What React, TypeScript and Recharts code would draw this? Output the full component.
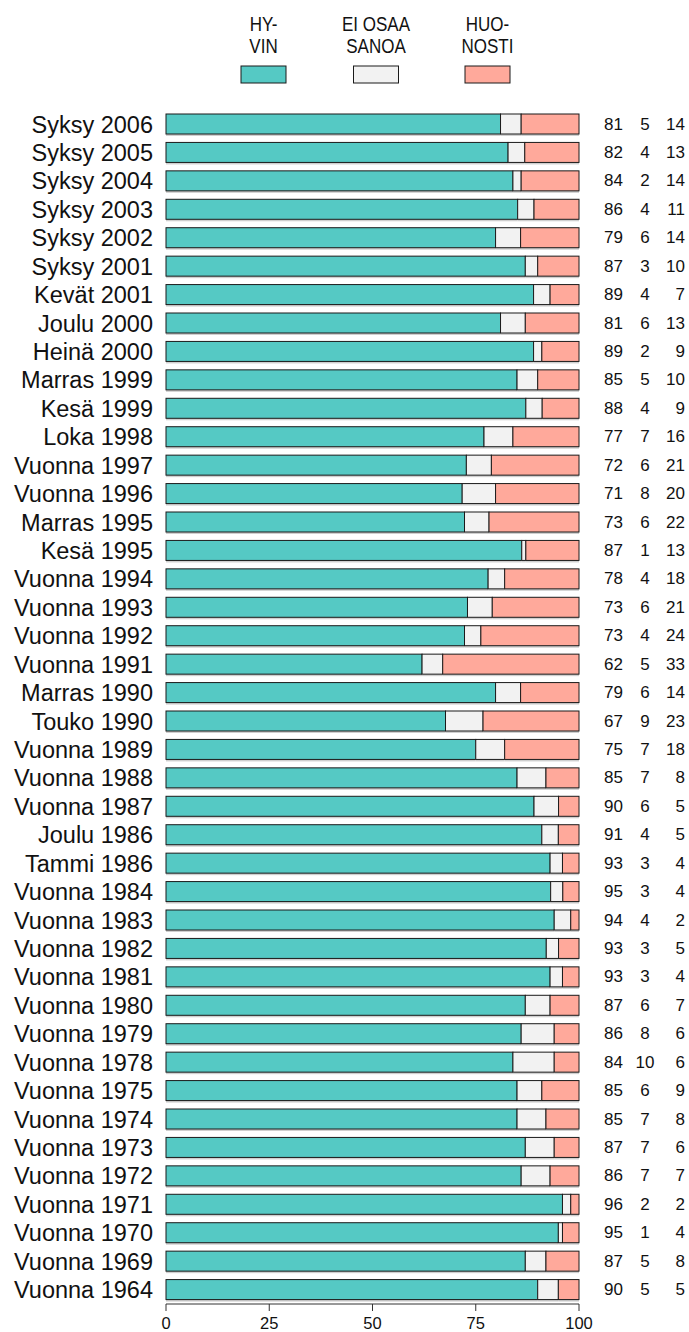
import React from 'react';
import { BarChart, Bar, XAxis, YAxis, LabelList } from 'recharts';

const categories = [
  'Syksy 2006', 'Syksy 2005', 'Syksy 2004', 'Syksy 2003', 'Syksy 2002', 'Syksy 2001',
  'Kevät 2001', 'Joulu 2000', 'Heinä 2000', 'Marras 1999', 'Kesä 1999', 'Loka 1998',
  'Vuonna 1997', 'Vuonna 1996', 'Marras 1995', 'Kesä 1995', 'Vuonna 1994', 'Vuonna 1993',
  'Vuonna 1992', 'Vuonna 1991', 'Marras 1990', 'Touko 1990', 'Vuonna 1989', 'Vuonna 1988',
  'Vuonna 1987', 'Joulu 1986', 'Tammi 1986', 'Vuonna 1984', 'Vuonna 1983', 'Vuonna 1982',
  'Vuonna 1981', 'Vuonna 1980', 'Vuonna 1979', 'Vuonna 1978', 'Vuonna 1975', 'Vuonna 1974',
  'Vuonna 1973', 'Vuonna 1972', 'Vuonna 1971', 'Vuonna 1970', 'Vuonna 1969', 'Vuonna 1964',
];
const hyvin = [81, 82, 84, 86, 79, 87, 89, 81, 89, 85, 88, 77, 72, 71, 73, 87, 78, 73, 73, 62, 79, 67, 75, 85, 90, 91, 93, 95, 94, 93, 93, 87, 86, 84, 85, 85, 87, 86, 96, 95, 87, 90];
const eiOsaa = [5, 4, 2, 4, 6, 3, 4, 6, 2, 5, 4, 7, 6, 8, 6, 1, 4, 6, 4, 5, 6, 9, 7, 7, 6, 4, 3, 3, 4, 3, 3, 6, 8, 10, 6, 7, 7, 7, 2, 1, 5, 5];
const huonosti = [14, 13, 14, 11, 14, 10, 7, 13, 9, 10, 9, 16, 21, 20, 22, 13, 18, 21, 24, 33, 14, 23, 18, 8, 5, 5, 4, 4, 2, 5, 4, 7, 6, 6, 9, 8, 6, 7, 2, 4, 8, 5];
const xTicks = [0, 25, 50, 75, 100];
const legendLabels = [['HY-', 'VIN'], ['EI OSAA', 'SANOA'], ['HUO-', 'NOSTI']];
const colors = ['#55C9C4', '#F2F2F2', '#FFA99B'];

const data = categories.map((name, i) => {
  const s = hyvin[i] + eiOsaa[i] + huonosti[i];
  return {
    name,
    h: (hyvin[i] * 100) / s,
    e: (eiOsaa[i] * 100) / s,
    n: (huonosti[i] * 100) / s,
  };
});

const FONT = '"Liberation Sans", Arial, sans-serif';
const STROKE = '#1a1a1a';

const makeShape = (fill: string) => (props: any) => {
  const { x, y, width, height } = props;
  if (width == null || height == null) return <g />;
  return (
    <g>
      <rect x={x} y={y + 2} width={width} height={height} fill="#cfcfcf" />
      <rect x={x} y={y} width={width} height={height} fill={fill} stroke={STROKE} strokeWidth={1} />
    </g>
  );
};

const ValuesLabel = (props: any) => {
  const { x, y, width, height, value } = props;
  const i = categories.indexOf(value);
  if (i < 0) return null;
  const right = x + width;
  const cy = y + height / 2;
  return (
    <g fontFamily={FONT} fontSize={17} fill="#111">
      <text x={right + 44} y={cy} textAnchor="end" dominantBaseline="central">{hyvin[i]}</text>
      <text x={right + 66} y={cy} textAnchor="middle" dominantBaseline="central">{eiOsaa[i]}</text>
      <text x={right + 106} y={cy} textAnchor="end" dominantBaseline="central">{huonosti[i]}</text>
    </g>
  );
};

const legendCenters = [263.5, 376, 487.5];

const LegendSvg = () => (
  <svg width={689} height={100} style={{ position: 'absolute', left: 0, top: 0 }}>
    {legendLabels.map((lines, k) => (
      <g key={k}>
        {lines.map((t, j) => (
          <text
            key={j}
            transform={`translate(${legendCenters[k]}, ${30.5 + j * 22.5}) scale(0.85,1)`}
            textAnchor="middle"
            fontFamily={FONT}
            fontSize={20}
            fill="#111"
          >
            {t}
          </text>
        ))}
        <rect x={legendCenters[k] - 22.5} y={66} width={45} height={17} fill={colors[k]} stroke={STROKE} strokeWidth={1} />
      </g>
    ))}
  </svg>
);

export default function App() {
  return (
    <div style={{ position: 'absolute', left: 0, top: 0, width: 689, height: 1332, background: '#fff' }}>
      <LegendSvg />
      <BarChart
        width={689}
        height={1332}
        data={data}
        layout="vertical"
        margin={{ top: 110, right: 110, bottom: 0, left: 0 }}
        barSize={20}
      >
        <XAxis
          type="number"
          domain={[0, 100]}
          ticks={xTicks}
          interval={0}
          height={28}
          axisLine={{ stroke: '#333' }}
          tickLine={{ stroke: '#333' }}
          tickSize={7}
          tickMargin={6}
          tick={{ fontSize: 16.5, fill: '#111', fontFamily: FONT }}
        />
        <YAxis
          type="category"
          dataKey="name"
          width={166}
          interval={0}
          axisLine={false}
          tickLine={false}
          tickSize={0}
          tickMargin={13}
          tick={{ fontSize: 23.5, fill: '#111', fontFamily: FONT }}
        />
        <Bar dataKey="h" stackId="a" fill={colors[0]} shape={makeShape(colors[0])} isAnimationActive={false} />
        <Bar dataKey="e" stackId="a" fill={colors[1]} shape={makeShape(colors[1])} isAnimationActive={false} />
        <Bar dataKey="n" stackId="a" fill={colors[2]} shape={makeShape(colors[2])} isAnimationActive={false}>
          <LabelList dataKey="name" content={<ValuesLabel />} />
        </Bar>
      </BarChart>
    </div>
  );
}
